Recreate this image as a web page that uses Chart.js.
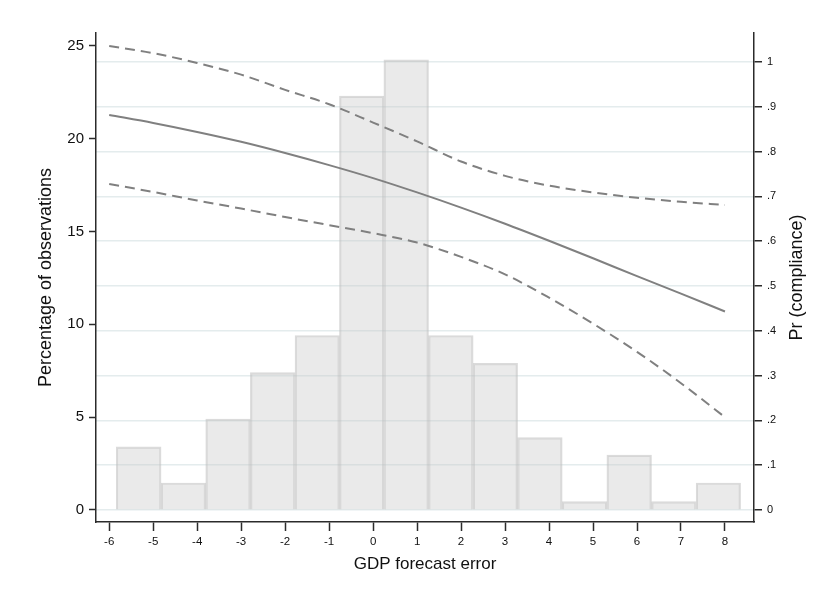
<!DOCTYPE html>
<html>
<head>
<meta charset="utf-8">
<script src="https://cdn.jsdelivr.net/npm/chart.js@4"></script>
<style>
  html, body { margin: 0; padding: 0; background: #fff; }
  #wrap { width: 824px; height: 602px; position: relative; }
</style>
</head>
<body>
<div id="wrap"><canvas id="chart"></canvas></div>
<script>
// histogram bins (centres) and share of observations
const binCenters = [-5.33, -4.31, -3.30, -2.28, -1.27, -0.26, 0.75, 1.77, 2.78, 3.79, 4.81, 5.82, 6.84, 7.85];
const pctObs = [3.4, 1.45, 4.9, 7.4, 9.4, 22.3, 24.25, 9.4, 7.9, 3.9, 0.45, 2.95, 0.45, 1.45];

// predicted probability of compliance with its band
const gdpError = [-6, -5, -4, -3, -2, -1, 0, 1, 2, 3, 4, 5, 6, 7, 8];
const prFit   = [0.882, 0.864, 0.844, 0.822, 0.797, 0.770, 0.741, 0.709, 0.675, 0.639, 0.601, 0.562, 0.522, 0.483, 0.443];
const prUpper = [1.036, 1.020, 0.998, 0.972, 0.938, 0.906, 0.865, 0.823, 0.778, 0.746, 0.724, 0.709, 0.697, 0.688, 0.681];
const prLower = [0.728, 0.710, 0.691, 0.673, 0.654, 0.636, 0.618, 0.597, 0.565, 0.526, 0.474, 0.416, 0.353, 0.283, 0.207];

// tick labels
const xTicks = [-6, -5, -4, -3, -2, -1, 0, 1, 2, 3, 4, 5, 6, 7, 8];
const pctTicks = [0, 5, 10, 15, 20, 25];
const prTicks = [0, 0.1, 0.2, 0.3, 0.4, 0.5, 0.6, 0.7, 0.8, 0.9, 1];

const FONT = "'Liberation Sans', Arial, sans-serif";
const AXIS = '#2b2b2b';
const LINE = '#808080';

const toXY = (xs, ys) => xs.map((x, i) => ({ x: x, y: ys[i] }));
const setTicks = (vals) => (scale) => { scale.ticks = vals.map(v => ({ value: v })); };

// right-hand title reads bottom-to-top, so draw it ourselves
const rightTitle = {
    id: 'rightTitle',
    afterDraw(chart) {
        const ctx = chart.ctx;
        const s = chart.scales.y2;
        ctx.save();
        ctx.translate(797, (s.top + s.bottom) / 2);
        ctx.rotate(-Math.PI / 2);
        ctx.font = '18px ' + FONT;
        ctx.fillStyle = '#111';
        ctx.textAlign = 'center';
        ctx.textBaseline = 'middle';
        ctx.fillText('Pr (compliance)', 0, 0);
        ctx.restore();
    }
};

new Chart(document.getElementById('chart'), {
    type: 'bar',
    data: {
        datasets: [
            {
                type: 'line',
                data: toXY(gdpError, prFit),
                yAxisID: 'y2',
                borderColor: LINE,
                borderWidth: 2,
                pointRadius: 0,
                cubicInterpolationMode: 'monotone',
                order: 0
            },
            {
                type: 'line',
                data: toXY(gdpError, prUpper),
                yAxisID: 'y2',
                borderColor: LINE,
                borderWidth: 2,
                borderDash: [10, 6],
                pointRadius: 0,
                cubicInterpolationMode: 'monotone',
                order: 0
            },
            {
                type: 'line',
                data: toXY(gdpError, prLower),
                yAxisID: 'y2',
                borderColor: LINE,
                borderWidth: 2,
                borderDash: [10, 6],
                pointRadius: 0,
                cubicInterpolationMode: 'monotone',
                order: 0
            },
            {
                type: 'bar',
                data: toXY(binCenters, pctObs),
                yAxisID: 'y',
                backgroundColor: 'rgba(200,200,200,0.38)',
                borderColor: 'rgba(190,190,190,0.55)',
                borderWidth: 1.5,
                barThickness: 'flex',
                barPercentage: 1,
                categoryPercentage: 1,
                order: 1
            }
        ]
    },
    options: {
        responsive: true,
        maintainAspectRatio: false,
        animation: false,
        layout: { padding: { top: 33, left: 0, right: 0, bottom: 0 } },
        plugins: {
            legend: { display: false },
            tooltip: { enabled: false }
        },
        scales: {
            x: {
                type: 'linear',
                offset: false,
                min: -6.30,
                max: 8.66,
                afterBuildTicks: setTicks(xTicks),
                afterFit: (s) => { s.height = 80; },
                border: { color: AXIS, width: 1.5 },
                grid: { offset: false, drawOnChartArea: false, tickLength: 9, tickColor: AXIS, tickWidth: 1.5 },
                ticks: {
                    color: '#111',
                    font: { family: FONT, size: 11.5 },
                    padding: 4,
                    maxRotation: 0,
                    callback: (v) => String(v)
                },
                title: {
                    display: true,
                    text: 'GDP forecast error',
                    color: '#111',
                    font: { family: FONT, size: 17 },
                    padding: { top: 0, bottom: 27 }
                }
            },
            y: {
                position: 'left',
                min: -0.65,
                max: 25.7,
                afterBuildTicks: setTicks(pctTicks),
                afterFit: (s) => { s.width = 96; },
                border: { color: AXIS, width: 1.5 },
                grid: { drawOnChartArea: false, tickLength: 7, tickColor: AXIS, tickWidth: 1.5 },
                ticks: {
                    color: '#111',
                    font: { family: FONT, size: 15 },
                    padding: 5,
                    callback: (v) => String(v)
                },
                title: {
                    display: true,
                    text: 'Percentage of observations',
                    color: '#111',
                    font: { family: FONT, size: 18 },
                    padding: { top: 35, bottom: 0 }
                }
            },
            y2: {
                position: 'right',
                min: -0.027,
                max: 1.065,
                afterBuildTicks: setTicks(prTicks),
                afterFit: (s) => { s.width = 70; },
                border: { color: AXIS, width: 1.5 },
                grid: {
                    color: '#e4eced',
                    lineWidth: 1.5,
                    tickLength: 8,
                    tickColor: AXIS,
                    tickWidth: 1.5
                },
                ticks: {
                    color: '#111',
                    font: { family: FONT, size: 11 },
                    padding: 5,
                    callback: (v) => (v === 0 || v === 1) ? String(v) : String(Math.round(v * 10) / 10).replace(/^0/, '')
                }
            }
        }
    },
    plugins: [rightTitle]
});
</script>
</body>
</html>
